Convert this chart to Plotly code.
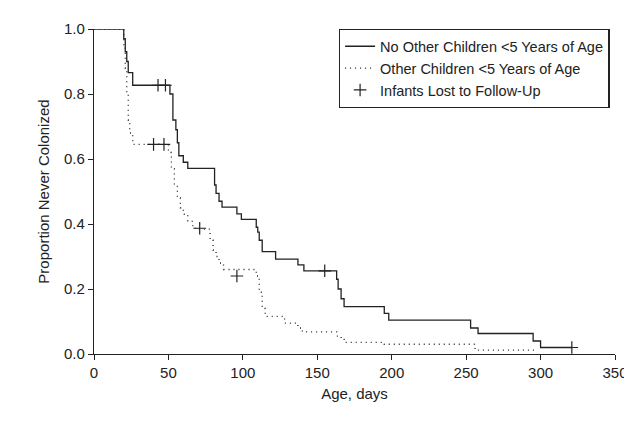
import plotly.graph_objects as go

# Kaplan-Meier style step data
no_kids_t = [0, 20, 21, 22, 23, 26, 51, 53, 55, 56, 57, 60, 63, 81, 82, 84, 86, 96, 99,
             109, 110, 111, 113, 122, 137, 141, 163, 164, 166, 168, 195, 198, 253, 258,
             295, 300, 321]
no_kids_s = [1.0, 0.97, 0.93, 0.90, 0.866, 0.827, 0.80, 0.72, 0.69, 0.65, 0.61, 0.59, 0.571,
             0.52, 0.494, 0.47, 0.452, 0.431, 0.414, 0.39, 0.375, 0.35, 0.315, 0.292, 0.274,
             0.256, 0.23, 0.20, 0.17, 0.146, 0.125, 0.104, 0.08, 0.063, 0.04, 0.02, 0.02]
no_kids_cens_t = [43, 48, 155, 321]
no_kids_cens_s = [0.827, 0.827, 0.256, 0.02]

kids_t = [0, 20, 21, 22, 23, 24, 26, 50, 52, 54, 56, 58, 60, 63, 66, 68, 78, 80, 82, 84, 87,
          109, 111, 113, 115, 128, 137, 140, 163, 166, 168, 195, 256, 298]
kids_s = [1.0, 0.95, 0.88, 0.80, 0.72, 0.68, 0.645, 0.62, 0.57, 0.52, 0.48, 0.45, 0.43, 0.41,
          0.395, 0.384, 0.35, 0.32, 0.30, 0.28, 0.26, 0.24, 0.19, 0.14, 0.116, 0.095, 0.08,
          0.068, 0.055, 0.045, 0.036, 0.03, 0.012, 0.012]
kids_cens_t = [40, 47, 71, 96]
kids_cens_s = [0.645, 0.645, 0.387, 0.24]

ink = '#222'

fig = go.Figure()
fig.add_trace(go.Scatter(x=no_kids_t, y=no_kids_s, mode='lines', line_shape='hv',
                         line=dict(color=ink, width=1.3),
                         name='No Other Children <5 Years of Age'))
fig.add_trace(go.Scatter(x=kids_t, y=kids_s, mode='lines', line_shape='hv',
                         line=dict(color=ink, width=1.3, dash='1px,4px'),
                         name='Other Children <5 Years of Age'))
fig.add_trace(go.Scatter(x=no_kids_cens_t + kids_cens_t, y=no_kids_cens_s + kids_cens_s,
                         mode='markers',
                         marker=dict(symbol='cross-thin-open', size=9, color=ink,
                                     line=dict(color=ink, width=1.2)),
                         name='Infants Lost to Follow-Up'))

axis_style = dict(showline=True, linecolor=ink, linewidth=1.3, ticks='outside',
                  ticklen=5, tickcolor=ink, showgrid=False, zeroline=False,
                  tickfont=dict(size=15, color=ink), mirror=False)
fig.update_xaxes(range=[0, 350], dtick=50, title=dict(text='Age, days',
                 font=dict(size=15, color=ink), standoff=8), **axis_style)
fig.update_yaxes(range=[0, 1.0], dtick=0.2, tickformat='.1f',
                 title=dict(text='Proportion Never Colonized', font=dict(size=15, color=ink),
                            standoff=10),
                 **axis_style)
fig.update_layout(width=632, height=422, plot_bgcolor='white', paper_bgcolor='white',
                  font=dict(family='Liberation Sans, Arial', color=ink),
                  margin=dict(l=86, r=16, t=12, b=76),
                  legend=dict(x=0.99, y=1.0, xanchor='right', yanchor='top',
                              bordercolor=ink, borderwidth=1.3, font=dict(size=14.5),
                              bgcolor='white', tracegroupgap=2))
fig.write_html('out.html')
